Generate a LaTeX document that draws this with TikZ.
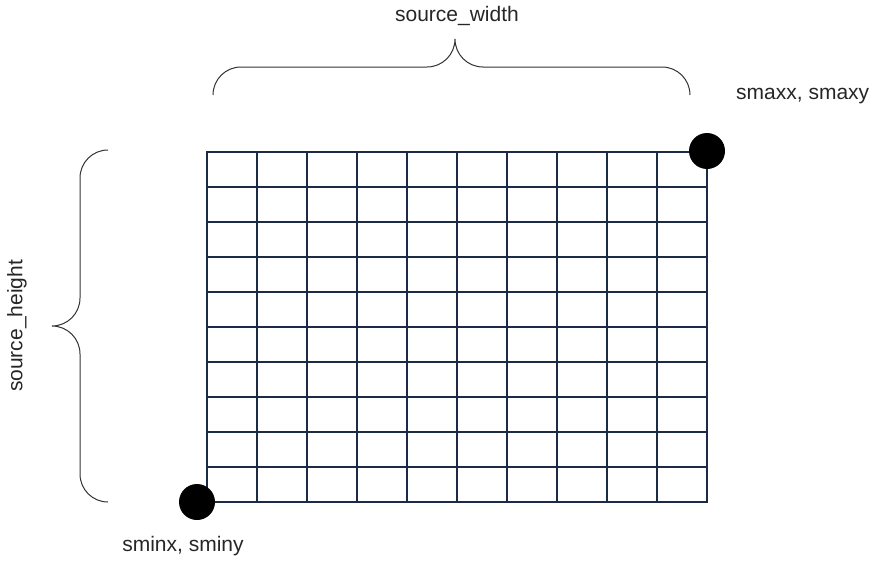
\documentclass[tikz,border=0pt]{standalone}
\usepackage{fontspec}
\setmainfont{Liberation Sans}
\definecolor{gridnavy}{HTML}{1B2A47}
\begin{document}
\begin{tikzpicture}[x=1pt,y=-1pt,
  lbl/.style={font=\fontsize{21}{25}\selectfont, inner sep=0pt, text=black!85},
  dot/.style={circle, fill=black, minimum size=36pt, inner sep=0pt},
  gridline/.style={draw=gridnavy, line width=2pt, line cap=rect},
  bracel/.style={draw=black!80, line width=1pt}]
\useasboundingbox (0,0) rectangle (875,570);
\foreach \i in {0,...,10} \draw[gridline] ({207+50*\i},152) -- ({207+50*\i},502);
\foreach \j in {0,...,10} \draw[gridline] (207,{152+35*\j}) -- (707,{152+35*\j});
\node[dot] (smax) at (707,151) {};
\node[dot] (smin) at (197,502) {};
\node[lbl, anchor=west] (smaxlbl) at (736,96) {smaxx, smaxy};
\node[lbl] (sminlbl) at (183,546) {sminx, sminy};
\node[lbl] (swlbl) at (457,16) {source\_width};
\node[lbl, rotate=90] (shlbl) at (17,326) {source\_height};
\draw[bracel] (213,95) .. controls (213,79.5) and (225.5,67) .. (241,67) -- (427,67)
  .. controls (442.5,67) and (455,54.5) .. (455,39)
  .. controls (455,54.5) and (467.5,67) .. (483,67) -- (662,67)
  .. controls (677.5,67) and (690,79.5) .. (690,95);
\draw[bracel] (108,150) .. controls (92.5,150) and (80,162.5) .. (80,178) -- (80,298)
  .. controls (80,313.5) and (67.5,326) .. (52,326)
  .. controls (67.5,326) and (80,338.5) .. (80,354) -- (80,474)
  .. controls (80,489.5) and (92.5,502) .. (108,502);
\end{tikzpicture}
\end{document}
